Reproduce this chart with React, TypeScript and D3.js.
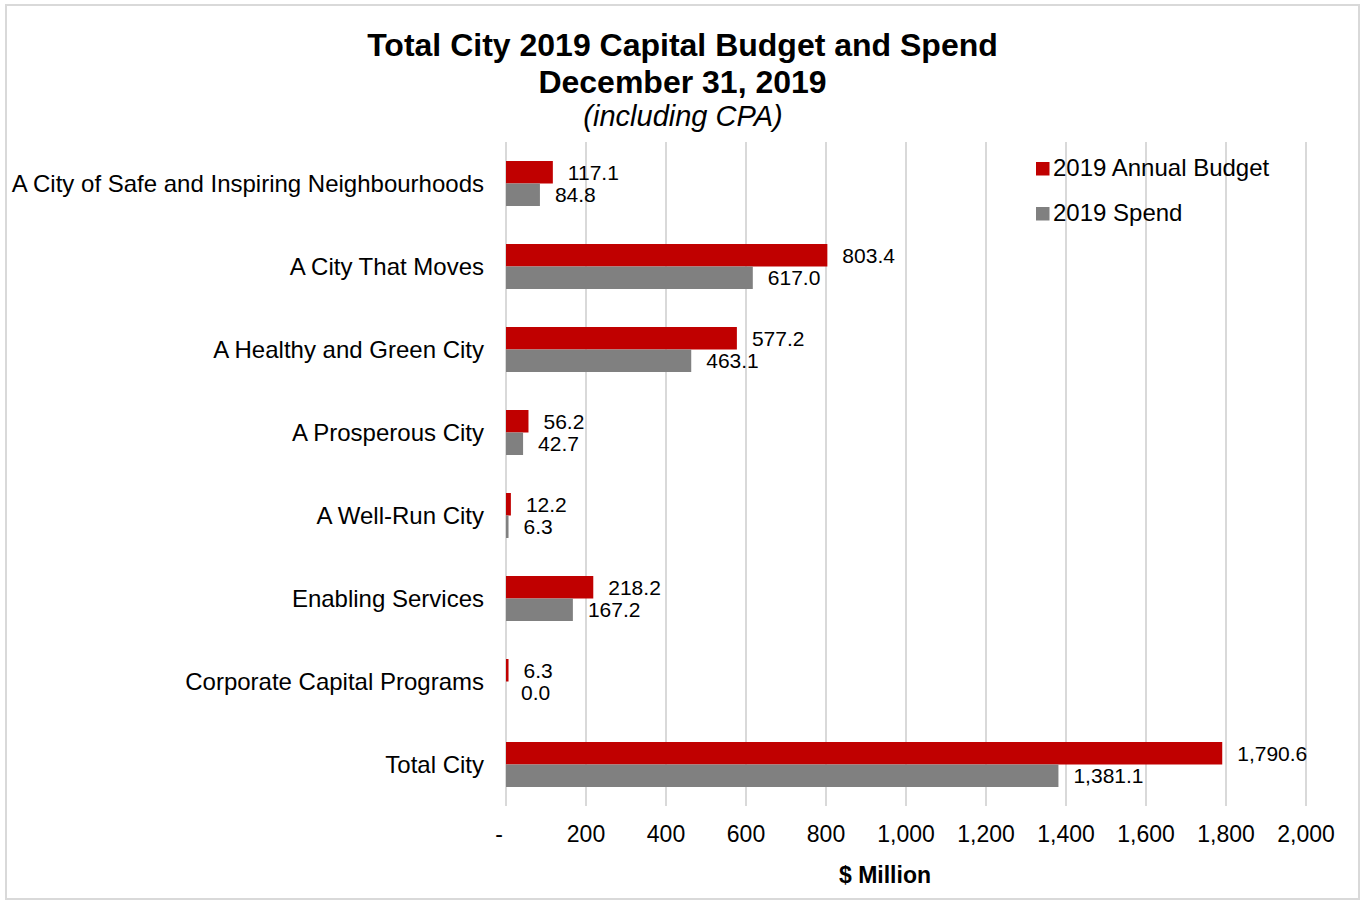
import React from "react";
import * as d3 from "d3";

const categories = [
  "A City of Safe and Inspiring Neighbourhoods",
  "A City That Moves",
  "A Healthy and Green City",
  "A Prosperous City",
  "A Well-Run City",
  "Enabling Services",
  "Corporate Capital Programs",
  "Total City",
];
const budget = [117.1, 803.4, 577.2, 56.2, 12.2, 218.2, 6.3, 1790.6];
const spend = [84.8, 617.0, 463.1, 42.7, 6.3, 167.2, 0.0, 1381.1];
const xTicks = [0, 200, 400, 600, 800, 1000, 1200, 1400, 1600, 1800, 2000];
const seriesNames = ["2019 Annual Budget", "2019 Spend"];
const seriesColors = ["#C00000", "#808080"];

const W = 1360;
const H = 901;
const FONT = "Liberation Sans, Arial, sans-serif";

export default function App() {
  const x = d3.scaleLinear().domain([0, 2000]).range([506, 1306]);
  const y = d3.scaleBand<string>().domain(categories).range([142, 806]).paddingInner(0.458).paddingOuter(0.229);
  const sub = d3.scaleBand<number>().domain([0, 1]).range([0, y.bandwidth()]);
  const fmtVal = d3.format(",.1f");
  const fmtTick = (v: number) => (v === 0 ? "-" : d3.format(",")(v));
  const series = [budget, spend];

  return (
    <svg width={W} height={H} style={{ position: "absolute", left: 0, top: 0 }} fontFamily={FONT}>
      <rect x={0} y={0} width={W} height={H} fill="#fff" />
      <rect x={6} y={5} width={1353} height={894} fill="none" stroke="#d9d9d9" strokeWidth={2} />
      {/* title */}
      <text x={682.5} y={56} textAnchor="middle" fontSize={32} fontWeight="bold" fill="#000">
        Total City 2019 Capital Budget and Spend
      </text>
      <text x={682.5} y={93} textAnchor="middle" fontSize={32} fontWeight="bold" fill="#000">
        December 31, 2019
      </text>
      <text x={683} y={126} textAnchor="middle" fontSize={29} fontStyle="italic" fill="#000">
        (including CPA)
      </text>
      {/* gridlines */}
      {xTicks.map((t) => (
        <line key={t} x1={x(t)} x2={x(t)} y1={142} y2={806} stroke="#d9d9d9" strokeWidth={2} />
      ))}
      {/* tick labels */}
      {xTicks.map((t) => (
        <text key={"t" + t} x={x(t) - (t === 0 ? 7 : 0)} y={842} textAnchor="middle" fontSize={23} fill="#000">
          {fmtTick(t)}
        </text>
      ))}
      <text x={885} y={883} textAnchor="middle" fontSize={23} fontWeight="bold" fill="#000">
        $ Million
      </text>
      {/* category labels */}
      {categories.map((c) => (
        <text key={c} x={484} y={(y(c) as number) + y.bandwidth() / 2} dy="0.35em" textAnchor="end" fontSize={24} fill="#000">
          {c}
        </text>
      ))}
      {/* bars */}
      {series.map((vals, si) =>
        categories.map((c, i) => {
          const by = (y(c) as number) + (sub(si) as number);
          const bw = x(vals[i]) - x(0);
          return (
            <g key={si + "-" + i}>
              {bw > 0 && (
                <rect x={x(0)} y={by} width={bw} height={sub.bandwidth()} fill={seriesColors[si]} />
              )}
              <text
                x={x(vals[i]) + 15}
                y={by + sub.bandwidth() / 2}
                dy="0.36em"
                fontSize={21}
                fill="#000"
              >
                {fmtVal(vals[i])}
              </text>
            </g>
          );
        })
      )}
      {/* legend */}
      {seriesNames.map((n, i) => (
        <g key={n} transform={`translate(1036, ${162 + i * 45})`}>
          <rect x={0} y={0} width={13.5} height={13.5} fill={seriesColors[i]} />
          <text x={17} y={14} fontSize={24} fill="#000">
            {n}
          </text>
        </g>
      ))}
    </svg>
  );
}
